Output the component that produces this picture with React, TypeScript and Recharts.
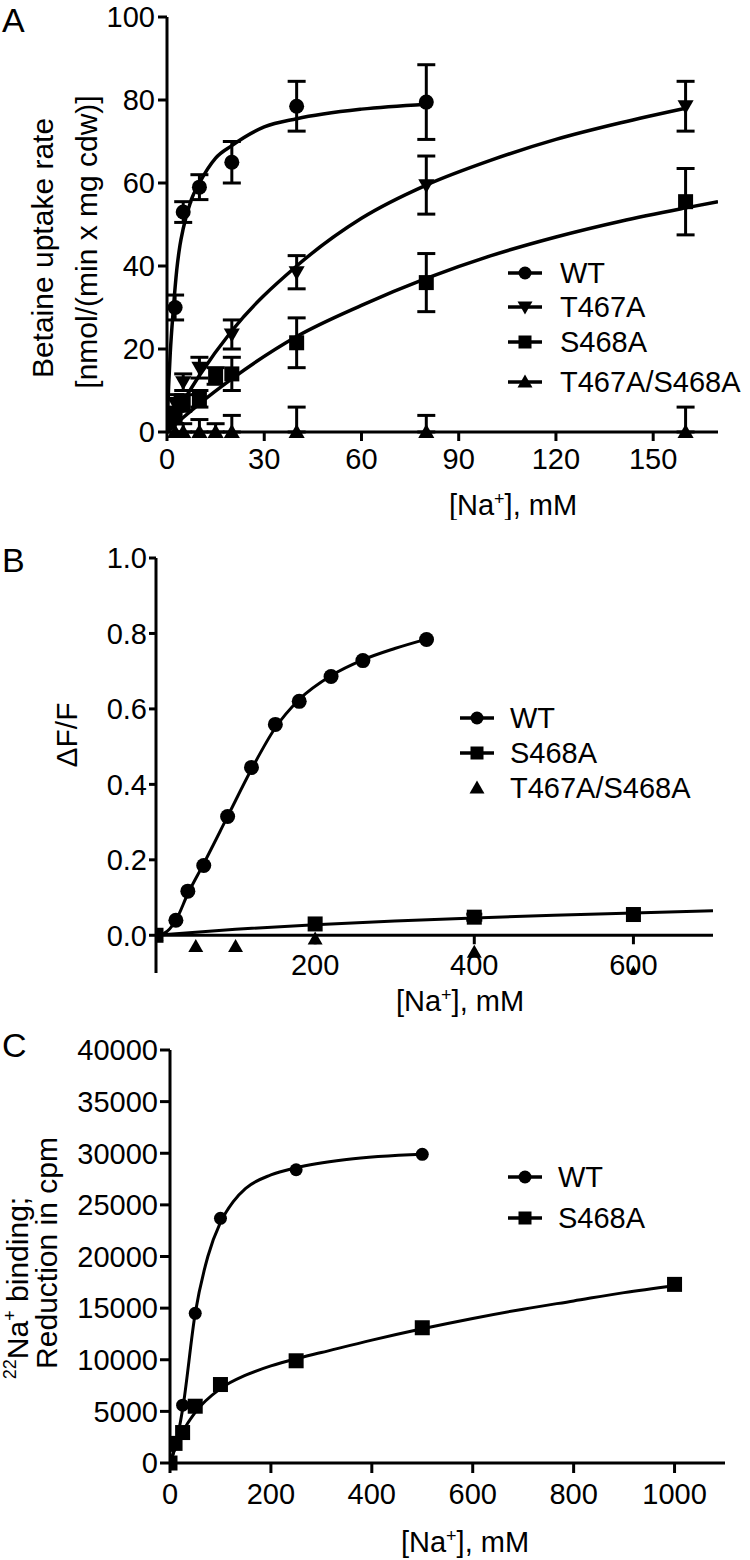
import React from 'react';
import { ComposedChart, Line, Scatter, XAxis, YAxis, ErrorBar, Legend, ReferenceLine } from 'recharts';

const FONT = '"Liberation Sans", Arial, Helvetica, sans-serif';
const K = '#000';

// ---------------- Panel A: betaine uptake ----------------
const aWtX = [2.5, 5, 10, 20, 40, 80];
const aWtY = [30, 53, 59, 65, 78.5, 79.5];
const aWtErr = [3, 2.5, 3, 5, 6, 9];

const aT467X = [2.5, 5, 10, 20, 40, 80, 160];
const aT467Y = [7, 12, 15.5, 23.5, 38.5, 59.5, 78.5];
const aT467Err = [2, 2, 2.5, 3.5, 4, 7, 6];

const aS468X = [2.5, 5, 10, 15, 20, 40, 80, 160];
const aS468Y = [4, 7, 8, 13.5, 14, 21.5, 36, 55.5];
const aS468Err = [2, 2, 2, 2, 4, 6, 7, 8];

const aDblX = [2.5, 5, 10, 15, 20, 40, 80, 160];
const aDblY = [0, 0, 0, 0, 0, 0, 0, 0];
const aDblErrUp = [2, 2, 3, 2, 4, 6, 4, 6];

const aWtCurveX = [0, 0.5, 1, 2, 3, 4, 5, 7.5, 10, 15, 20, 30, 40, 60, 80];
const aWtCurveY = [0, 11, 19, 30, 39, 45, 49, 56, 60, 66, 69, 73.5, 75.5, 77.8, 79];
const aT467CurveX = [0, 5, 10, 20, 40, 60, 80, 100, 120, 140, 160];
const aT467CurveY = [0, 7.3, 13.6, 24.4, 40, 51.5, 59.5, 65.5, 70.5, 74.5, 78];
const aS468CurveX = [0, 5, 10, 20, 40, 60, 80, 100, 120, 140, 160, 170];
const aS468CurveY = [0, 3.5, 6.8, 12.8, 23, 30.5, 37, 42.5, 47, 50.8, 54, 55.5];

const aXTicks = [0, 30, 60, 90, 120, 150];
const aYTicks = [0, 20, 40, 60, 80, 100];
const aLegendNames = ['WT', 'T467A', 'S468A', 'T467A/S468A'];

// ---------------- Panel B: fluorescence ----------------
const bWtX = [25, 40, 60, 90, 120, 150, 180, 220, 260, 340];
const bWtY = [0.04, 0.117, 0.185, 0.315, 0.445, 0.559, 0.62, 0.686, 0.728, 0.784];
const bS468X = [0, 200, 400, 600];
const bS468Y = [0, 0.03, 0.048, 0.055];
const bS468Err = [0, 0, 0.008, 0];
const bDblX = [0, 50, 100, 200, 400, 600];
const bDblY = [0, -0.03, -0.03, -0.01, -0.045, -0.1];

const bWtCurveX = [0, 10, 25, 40, 60, 90, 120, 150, 180, 220, 260, 300, 340];
const bWtCurveY = [0, 0.005, 0.04, 0.11, 0.19, 0.315, 0.44, 0.55, 0.625, 0.688, 0.73, 0.76, 0.785];
const bS468CurveX = [0, 100, 200, 300, 400, 500, 600, 700];
const bS468CurveY = [0, 0.016, 0.028, 0.038, 0.046, 0.053, 0.059, 0.065];

const bXTicks = [200, 400, 600];
const bYTicks = [0, 0.2, 0.4, 0.6, 0.8, 1.0];
const bLegendNames = ['WT', 'S468A', 'T467A/S468A'];

// ---------------- Panel C: 22Na binding ----------------
const cWtX = [0, 5, 25, 50, 100, 250, 500];
const cWtY = [0, 1700, 5600, 14500, 23700, 28400, 29900];
const cS468X = [0, 10, 25, 50, 100, 250, 500, 1000];
const cS468Y = [0, 1900, 2950, 5500, 7600, 9900, 13100, 17300];

const cWtCurveX = [0, 10, 25, 50, 75, 100, 125, 150, 200, 250, 350, 500];
const cWtCurveY = [0, 1500, 5200, 14500, 20000, 23300, 25300, 26600, 27900, 28600, 29400, 29900];
const cS468CurveX = [0, 10, 25, 50, 100, 150, 200, 250, 300, 400, 500, 600, 700, 800, 900, 1000];
const cS468CurveY = [0, 1400, 3000, 4900, 7200, 8500, 9400, 10100, 10700, 11900, 13000, 14000, 14900, 15700, 16500, 17200];

const cXTicks = [0, 200, 400, 600, 800, 1000];
const cYTicks = [0, 5000, 10000, 15000, 20000, 25000, 30000, 35000, 40000];
const cLegendNames = ['WT', 'S468A'];

// ---------------- helpers ----------------
const pts = (xs: number[], ys: number[], es?: any[]) =>
  xs.map((x, i) => ({ x, y: ys[i], e: es ? es[i] : 0 }));

function marker(kind: string, cx: number, cy: number, s: number) {
  if (kind === 'circle') return <circle cx={cx} cy={cy} r={s} fill={K} />;
  if (kind === 'square') return <rect x={cx - s} y={cy - s} width={2 * s} height={2 * s} fill={K} />;
  if (kind === 'down')
    return <path d={`M${cx - s * 1.15},${cy - s * 0.85} L${cx + s * 1.15},${cy - s * 0.85} L${cx},${cy + s * 1.15} Z`} fill={K} />;
  return <path d={`M${cx - s * 1.15},${cy + s * 0.85} L${cx + s * 1.15},${cy + s * 0.85} L${cx},${cy - s * 1.15} Z`} fill={K} />;
}
const shape = (kind: string, s: number) => (p: any) => marker(kind, p.cx, p.cy, s);

const tickStyle = { fill: K, fontSize: 29, fontFamily: FONT };

function LegendOverlay(props: {
  h: number; letter: string; letterY: number; names: string[]; kinds: string[]; lines: boolean[];
  ys: number[]; mx: number; half: number; tx: number; size: number;
}) {
  const { h, letter, letterY, names, kinds, lines, ys, mx, half, tx, size } = props;
  return (
    <svg width={750} height={h} style={{ position: 'absolute', left: 0, top: 0, overflow: 'visible' }}>
      <text x={2} y={letterY} fontSize={34} fontFamily={FONT} fill={K}>{letter}</text>
      {names.map((n, i) => (
        <g key={n}>
          {lines[i] && <line x1={mx - half} x2={mx + half} y1={ys[i]} y2={ys[i]} stroke={K} strokeWidth={3.5} />}
          {marker(kinds[i], mx, ys[i], size)}
          <text x={tx} y={ys[i]} dy="0.36em" fontSize={29} fontFamily={FONT} fill={K}>{n}</text>
        </g>
      ))}
    </svg>
  );
}

const NaLabel = (cx: number, cy: number) => () => (
  <text x={cx} y={cy} dy="0.36em" textAnchor="middle" fontSize={29} fontFamily={FONT} fill={K}>
    [Na<tspan dy="-10" fontSize={18}>+</tspan><tspan dy="10">], mM</tspan>
  </text>
);

// ---------------- Panels ----------------
function PanelA() {
  const H = 520;
  return (
    <ComposedChart width={750} height={H} margin={{ top: 17, right: 32, bottom: 58, left: 107 }}>
      <XAxis type="number" dataKey="x" domain={[0, 170]} ticks={aXTicks} allowDataOverflow
        axisLine={{ stroke: K, strokeWidth: 3 }} tickLine={{ stroke: K, strokeWidth: 3 }}
        tickSize={9} tickMargin={7} tick={tickStyle} interval={0}
        label={{ content: NaLabel(513, 505) }} />
      <YAxis type="number" dataKey="y" domain={[0, 100]} ticks={aYTicks} width={60}
        axisLine={{ stroke: K, strokeWidth: 3 }} tickLine={{ stroke: K, strokeWidth: 3 }}
        tickSize={9} tickMargin={3} tick={tickStyle} interval={0}
        label={{
          content: () => (
            <g fontSize={30} fontFamily={FONT} fill={K}>
              <text transform="translate(53,248) rotate(-90)" textAnchor="middle">Betaine uptake rate</text>
              <text transform="translate(97,242) rotate(-90)" textAnchor="middle">[nmol/(min x mg cdw)]</text>
            </g>
          ),
        }} />
      <Line data={pts(aWtCurveX, aWtCurveY)} dataKey="y" type="monotone" stroke={K} strokeWidth={3.5} dot={false} isAnimationActive={false} legendType="none" />
      <Line data={pts(aT467CurveX, aT467CurveY)} dataKey="y" type="monotone" stroke={K} strokeWidth={3.5} dot={false} isAnimationActive={false} legendType="none" />
      <Line data={pts(aS468CurveX, aS468CurveY)} dataKey="y" type="monotone" stroke={K} strokeWidth={3.5} dot={false} isAnimationActive={false} legendType="none" />
      <Scatter name="WT" data={pts(aWtX, aWtY, aWtErr)} dataKey="y" shape={shape('circle', 7.5)} isAnimationActive={false} legendType="none">
        <ErrorBar dataKey="e" direction="y" width={9} strokeWidth={3} stroke={K} />
      </Scatter>
      <Scatter name="T467A" data={pts(aT467X, aT467Y, aT467Err)} dataKey="y" shape={shape('down', 7)} isAnimationActive={false} legendType="none">
        <ErrorBar dataKey="e" direction="y" width={9} strokeWidth={3} stroke={K} />
      </Scatter>
      <Scatter name="S468A" data={pts(aS468X, aS468Y, aS468Err)} dataKey="y" shape={shape('square', 7.5)} isAnimationActive={false} legendType="none">
        <ErrorBar dataKey="e" direction="y" width={9} strokeWidth={3} stroke={K} />
      </Scatter>
      <Scatter name="T467A/S468A" data={pts(aDblX, aDblY, aDblErrUp.map((u) => [0, u]))} dataKey="y" shape={shape('up', 7)} isAnimationActive={false} legendType="none">
        <ErrorBar dataKey="e" direction="y" width={9} strokeWidth={3} stroke={K} />
      </Scatter>
      <Legend layout="vertical" align="center" verticalAlign="middle"
        wrapperStyle={{ left: 0, top: 0, width: 750, height: H, margin: 0, pointerEvents: 'none' }}
        content={() => (
          <LegendOverlay h={H} letter="A" letterY={32} names={aLegendNames}
            kinds={['circle', 'down', 'square', 'up']} lines={[true, true, true, true]}
            ys={[273, 307, 342, 382]} mx={525} half={17} tx={560} size={6.5} />
        )} />
    </ComposedChart>
  );
}

function PanelB() {
  const H = 500;
  const plotTop = 38;
  const plotH = 415;
  const y0 = plotTop + plotH * (1.0 / 1.1);
  const BTick = (p: any) => (
    <g>
      <line x1={p.x} x2={p.x} y1={y0} y2={y0 + 9} stroke={K} strokeWidth={3} />
      <text x={p.x} y={y0 + 19} dy="0.71em" textAnchor="middle" fontSize={29} fontFamily={FONT} fill={K}>{p.payload.value}</text>
    </g>
  );
  return (
    <ComposedChart width={750} height={H} margin={{ top: plotTop, right: 37, bottom: 17, left: 96 }}>
      <XAxis type="number" dataKey="x" domain={[0, 700]} ticks={bXTicks} allowDataOverflow
        axisLine={false} tickLine={false} tickSize={0} tickMargin={0} tick={<BTick />} interval={0}
        label={{ content: NaLabel(460, 481) }} />
      <YAxis type="number" dataKey="y" domain={[-0.1, 1.0]} ticks={bYTicks} width={60} allowDataOverflow
        axisLine={{ stroke: K, strokeWidth: 3 }} tickLine={{ stroke: K, strokeWidth: 3 }}
        tickSize={7} tickMargin={2} tick={tickStyle} interval={0}
        tickFormatter={(v: number) => v.toFixed(1)}
        label={{
          content: () => (
            <text transform="translate(77,215) rotate(-90)" textAnchor="middle" fontSize={30} fontFamily={FONT} fill={K}>ΔF/F</text>
          ),
        }} />
      <ReferenceLine y={0} stroke={K} strokeWidth={3} />
      <Line data={pts(bWtCurveX, bWtCurveY)} dataKey="y" type="monotone" stroke={K} strokeWidth={3} dot={false} isAnimationActive={false} legendType="none" />
      <Line data={pts(bS468CurveX, bS468CurveY)} dataKey="y" type="monotone" stroke={K} strokeWidth={3} dot={false} isAnimationActive={false} legendType="none" />
      <Scatter name="WT" data={pts(bWtX, bWtY)} dataKey="y" shape={shape('circle', 7.5)} isAnimationActive={false} legendType="none" />
      <Scatter name="S468A" data={pts(bS468X, bS468Y, bS468Err)} dataKey="y" shape={shape('square', 7.5)} isAnimationActive={false} legendType="none">
        <ErrorBar dataKey="e" direction="y" width={8} strokeWidth={3} stroke={K} />
      </Scatter>
      <Scatter name="T467A/S468A" data={pts(bDblX, bDblY)} dataKey="y" shape={shape('up', 6.5)} isAnimationActive={false} legendType="none" />
      <Legend layout="vertical" align="center" verticalAlign="middle"
        wrapperStyle={{ left: 0, top: 0, width: 750, height: H, margin: 0, pointerEvents: 'none' }}
        content={() => (
          <LegendOverlay h={H} letter="B" letterY={52} names={bLegendNames}
            kinds={['circle', 'square', 'up']} lines={[true, true, false]}
            ys={[198, 233, 268]} mx={477} half={17} tx={510} size={6.5} />
        )} />
    </ComposedChart>
  );
}

function PanelC() {
  const H = 540;
  return (
    <ComposedChart width={750} height={H} margin={{ top: 30, right: 25, bottom: 67, left: 110 }}>
      <XAxis type="number" dataKey="x" domain={[0, 1100]} ticks={cXTicks} allowDataOverflow
        axisLine={{ stroke: K, strokeWidth: 3 }} tickLine={{ stroke: K, strokeWidth: 3 }}
        tickSize={10} tickMargin={10} tick={tickStyle} interval={0}
        label={{ content: NaLabel(465, 522) }} />
      <YAxis type="number" dataKey="y" domain={[0, 40000]} ticks={cYTicks} width={60}
        axisLine={{ stroke: K, strokeWidth: 3 }} tickLine={{ stroke: K, strokeWidth: 3 }}
        tickSize={10} tickMargin={2} tick={tickStyle} interval={0}
        label={{
          content: () => (
            <g fontSize={30} fontFamily={FONT} fill={K}>
              <text transform="translate(28,268) rotate(-90)" textAnchor="middle">
                <tspan fontSize={18} dy="-12">22</tspan><tspan dy="12">Na</tspan><tspan fontSize={18} dy="-12">+</tspan><tspan dy="12"> binding;</tspan>
              </text>
              <text transform="translate(57,233) rotate(-90)" textAnchor="middle">Reduction in cpm</text>
            </g>
          ),
        }} />
      <Line data={pts(cWtCurveX, cWtCurveY)} dataKey="y" type="monotone" stroke={K} strokeWidth={3} dot={false} isAnimationActive={false} legendType="none" />
      <Line data={pts(cS468CurveX, cS468CurveY)} dataKey="y" type="monotone" stroke={K} strokeWidth={3} dot={false} isAnimationActive={false} legendType="none" />
      <Scatter name="WT" data={pts(cWtX, cWtY)} dataKey="y" shape={shape('circle', 6.5)} isAnimationActive={false} legendType="none" />
      <Scatter name="S468A" data={pts(cS468X, cS468Y)} dataKey="y" shape={shape('square', 7.5)} isAnimationActive={false} legendType="none" />
      <Legend layout="vertical" align="center" verticalAlign="middle"
        wrapperStyle={{ left: 0, top: 0, width: 750, height: H, margin: 0, pointerEvents: 'none' }}
        content={() => (
          <LegendOverlay h={H} letter="C" letterY={37} names={cLegendNames}
            kinds={['circle', 'square']} lines={[true, true]}
            ys={[157, 198]} mx={525} half={17} tx={558} size={6.5} />
        )} />
    </ComposedChart>
  );
}

export default function App() {
  return (
    <div style={{ position: 'absolute', left: 0, top: 0, width: 750, height: 1560, background: '#fff' }}>
      <div style={{ position: 'absolute', left: 0, top: 0 }}><PanelA /></div>
      <div style={{ position: 'absolute', left: 0, top: 520 }}><PanelB /></div>
      <div style={{ position: 'absolute', left: 0, top: 1020 }}><PanelC /></div>
    </div>
  );
}
